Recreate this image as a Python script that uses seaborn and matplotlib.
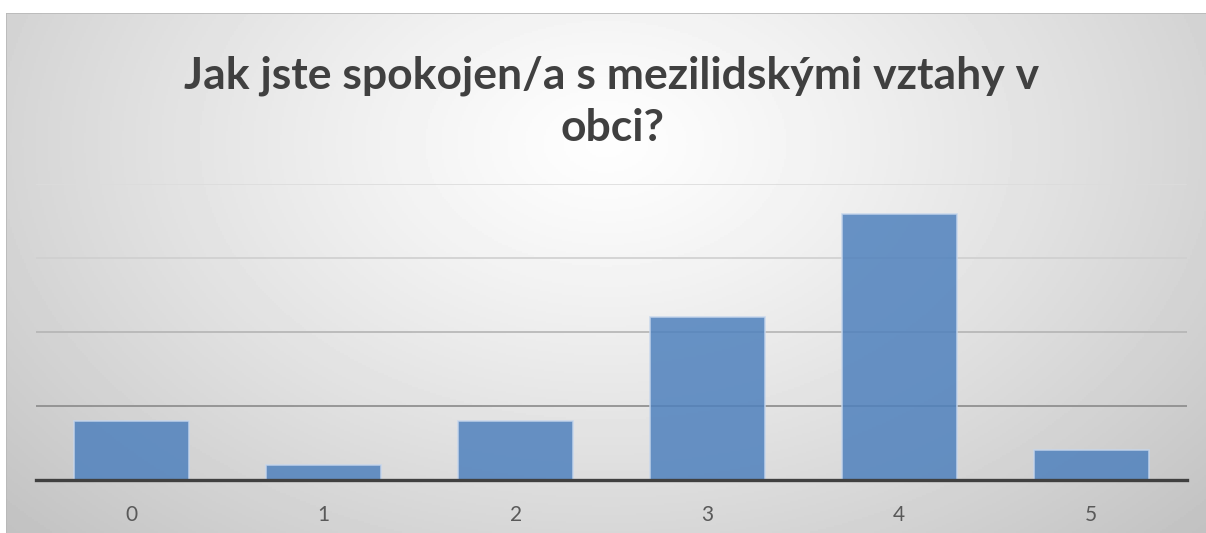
import numpy as np
import pandas as pd
import seaborn as sns
import matplotlib.pyplot as plt

# ratings 0-5 and number of answers
ratings = ["0", "1", "2", "3", "4", "5"]
counts = [4, 1, 4, 11, 18, 2]
title = "Jak jste spokojen/a s mezilidskými vztahy v\nobci?"

df = pd.DataFrame({"rating": ratings, "count": counts})

sns.set_theme(style="white")
plt.rcParams["font.family"] = ["Lato", "DejaVu Sans"]

W, H = 1206, 533
fig = plt.figure(figsize=(W / 100, H / 100), dpi=100)
fig.patch.set_facecolor("white")

# radial gradient background like the office chart style
bg = fig.add_axes([6 / W, 0, (W - 6) / W, (H - 13) / H], zorder=0)
yy, xx = np.mgrid[0:1:260j, 0:1:600j]
r = np.sqrt(((xx - 0.5) / 0.7) ** 2 + ((yy - 0.25) / 1.1) ** 2)
shade = 0.995 - 0.24 * np.clip(r, 0, 1) ** 1.2
bg.imshow(shade, cmap="gray", vmin=0, vmax=1, aspect="auto", extent=[0, 1, 1, 0])
bg.set_axis_off()
bg.add_line(plt.Line2D([0, 1], [1, 1], transform=bg.transAxes, color="#b8b8b8", lw=1.2))
bg.add_line(plt.Line2D([0, 0], [0, 1], transform=bg.transAxes, color="#b8b8b8", lw=1.2))

ax = fig.add_axes([36 / W, (H - 480) / H, (1187 - 36) / W, (480 - 184) / H], zorder=1)
ax.set_facecolor("none")

sns.barplot(data=df, x="rating", y="count", color="#4f81bd", alpha=0.85, saturation=1,
            width=0.6, edgecolor="#c6d6ec", linewidth=1.2, ax=ax)

ax.set_ylim(0, 20)
ax.set_yticks([0, 5, 10, 15, 20])
ax.yaxis.grid(True, linewidth=1.2)
ax.set_axisbelow(True)
grid_cols = ["#888888", "#8a8a8a", "#b4b4b4", "#cfcfcf", "#dcdcdc"]
for gl, c in zip(ax.get_ygridlines(), grid_cols):
    gl.set_color(c)
ax.set_yticklabels([])
ax.tick_params(axis="y", length=0)
ax.tick_params(axis="x", length=0, pad=18, labelsize=15, labelcolor="#595959")
ax.set_xlabel("")
ax.set_ylabel("")
for s in ["top", "right", "left"]:
    ax.spines[s].set_visible(False)
ax.spines["bottom"].set_color("#404040")
ax.spines["bottom"].set_linewidth(2.4)
ax.spines["bottom"].set_zorder(5)

fig.text(612 / W, 1 - 102 / H, title, ha="center", va="center",
         fontsize=32, fontweight="bold", color="#404040", linespacing=1.35)

fig.savefig("out.png", dpi=100)
